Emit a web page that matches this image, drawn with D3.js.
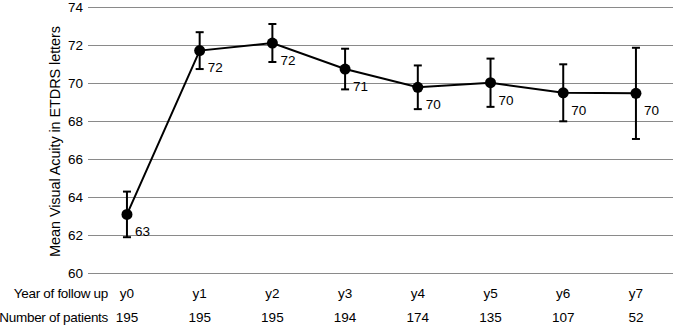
<!DOCTYPE html>
<html><head><meta charset="utf-8">
<script src="https://cdn.jsdelivr.net/npm/d3@7"></script>
<style>body{margin:0;background:#fff}svg{display:block;font-family:"Liberation Sans",Arial,sans-serif}</style>
</head><body><svg id="c" width="675" height="327"></svg>
<script>
const years = ["y0","y1","y2","y3","y4","y5","y6","y7"];
const meanVA = [63.1, 71.72, 72.12, 70.75, 69.79, 70.03, 69.5, 69.47];
const errVA = [1.2, 0.97, 1.0, 1.07, 1.15, 1.27, 1.5, 2.4];
const valueLabels = ["63","72","72","71","70","70","70","70"];
const patients = [195, 195, 195, 194, 174, 135, 107, 52];
const yTicks = [60, 62, 64, 66, 68, 70, 72, 74];

const svg = d3.select("#c");
const x = d3.scaleBand().domain(years).range([90.6, 672.3]);
const y = d3.scaleLinear().domain([60, 74]).range([273.3, 7.3]);
const cx = d => x(d) + x.bandwidth()/2;

// gridlines
svg.append("g").selectAll("line").data(yTicks).join("line")
  .attr("x1", 88).attr("x2", 673)
  .attr("y1", d => Math.round(y(d)) + 0.5).attr("y2", d => Math.round(y(d)) + 0.5)
  .attr("stroke", "#8a8a8a").attr("stroke-width", 1.2);

// y tick labels
svg.append("g").selectAll("text").data(yTicks).join("text")
  .attr("x", 83).attr("y", d => y(d)).attr("dy", "0.36em")
  .attr("text-anchor", "end").attr("font-size", 13.5).attr("fill", "#000")
  .text(d => d);

// y title
svg.append("text")
  .attr("transform", "translate(54.5,141.5) rotate(-90)")
  .attr("text-anchor", "middle").attr("dy", "0.36em")
  .attr("font-size", 14.5).attr("letter-spacing", -0.1)
  .text("Mean Visual Acuity in ETDRS letters");

const pts = years.map((yr, i) => ({yr, v: meanVA[i], e: errVA[i], lab: valueLabels[i], n: patients[i]}));

// line
svg.append("path").datum(pts)
  .attr("d", d3.line().x(d => cx(d.yr)).y(d => y(d.v)))
  .attr("fill", "none").attr("stroke", "#000").attr("stroke-width", 2);

// error bars
const eb = svg.append("g").attr("stroke", "#000").attr("stroke-width", 2);
eb.selectAll("line.v").data(pts).join("line").attr("class", "v")
  .attr("x1", d => cx(d.yr)).attr("x2", d => cx(d.yr))
  .attr("y1", d => y(d.v + d.e)).attr("y2", d => y(d.v - d.e));
eb.selectAll("line.t").data(pts).join("line").attr("class", "t")
  .attr("x1", d => cx(d.yr) - 4).attr("x2", d => cx(d.yr) + 4)
  .attr("y1", d => y(d.v + d.e)).attr("y2", d => y(d.v + d.e));
eb.selectAll("line.b").data(pts).join("line").attr("class", "b")
  .attr("x1", d => cx(d.yr) - 4).attr("x2", d => cx(d.yr) + 4)
  .attr("y1", d => y(d.v - d.e)).attr("y2", d => y(d.v - d.e));

// markers
svg.append("g").selectAll("circle").data(pts).join("circle")
  .attr("cx", d => cx(d.yr)).attr("cy", d => y(d.v)).attr("r", 5.5).attr("fill", "#000");

// value labels
svg.append("g").selectAll("text").data(pts).join("text")
  .attr("x", d => cx(d.yr) + 8).attr("y", d => y(d.v) + 17).attr("dy", "0.36em")
  .attr("font-size", 13.5).text(d => d.lab);

// bottom table
const rowStyle = s => s.attr("font-size", 13.5).attr("letter-spacing", -0.3);
svg.append("text").attr("x", 108).attr("y", 293.3).attr("dy", "0.36em")
  .attr("text-anchor", "end").call(rowStyle).text("Year of follow up");
svg.append("text").attr("x", 108).attr("y", 316.7).attr("dy", "0.36em")
  .attr("text-anchor", "end").call(rowStyle).text("Number of patients");
svg.append("g").selectAll("text").data(pts).join("text")
  .attr("x", d => cx(d.yr)).attr("y", 293.3).attr("dy", "0.36em")
  .attr("text-anchor", "middle").attr("font-size", 13.5).text(d => d.yr);
svg.append("g").selectAll("text").data(pts).join("text")
  .attr("x", d => cx(d.yr)).attr("y", 316.7).attr("dy", "0.36em")
  .attr("text-anchor", "middle").attr("font-size", 13.5).text(d => d.n);
</script></body></html>
